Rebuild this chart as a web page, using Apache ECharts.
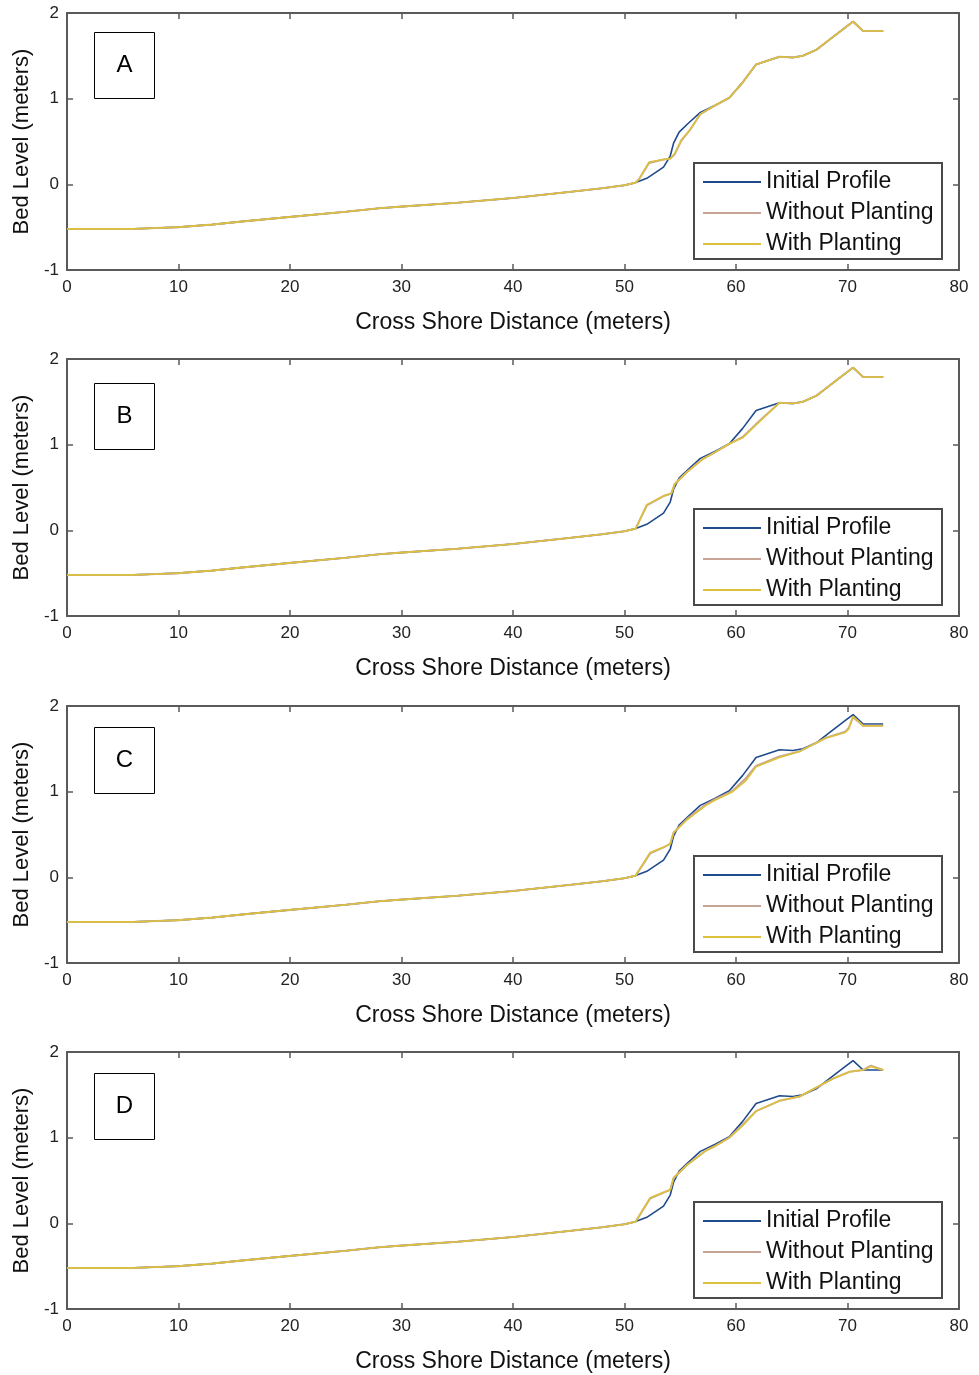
<!DOCTYPE html>
<html>
<head>
<meta charset="utf-8">
<script src="https://cdn.jsdelivr.net/npm/echarts@6/dist/echarts.min.js"></script>
<style>
html,body{margin:0;padding:0;background:#fff;}
#chart{width:979px;height:1375px;}
</style>
</head>
<body>
<div id="chart"></div>
<script>
// ---------- DATA ----------
const panelLabels = ['A', 'B', 'C', 'D'];
const seriesNames = ['Initial Profile', 'Without Planting', 'With Planting'];
const xTicks = [0, 10, 20, 30, 40, 50, 60, 70, 80];
const yTicks = [-1, 0, 1, 2];

// Shared offshore part (identical in all runs)
const offshoreX = [0, 3, 6, 8, 10, 13, 16, 20, 25, 28, 30, 35, 40, 45, 48, 50, 51];
const offshoreY = [-0.52, -0.52, -0.52, -0.51, -0.50, -0.47, -0.43, -0.38, -0.32, -0.28, -0.26, -0.215, -0.16, -0.09, -0.045, -0.01, 0.02];

// Initial profile, upper beach
const initialX = [52, 53.5, 54.1, 54.4, 54.9, 55.7, 56.8, 58.1, 59.4, 60.6, 61.8, 63.9, 65.1, 66.0, 67.2, 68.7, 69.9, 70.5, 71.4, 73.2];
const initialY = [0.07, 0.20, 0.33, 0.48, 0.61, 0.71, 0.84, 0.92, 1.01, 1.19, 1.40, 1.49, 1.48, 1.50, 1.57, 1.72, 1.84, 1.90, 1.79, 1.79];

// Panel A
const withAX = [51.3, 52.2, 53.5, 54.1, 54.5, 55.1, 55.9, 56.8, 58.1, 59.4, 60.6, 61.8, 63.9, 65.1, 66.0, 67.2, 68.7, 69.9, 70.5, 71.4, 73.2];
const withAY = [0.06, 0.26, 0.29, 0.30, 0.36, 0.52, 0.64, 0.82, 0.92, 1.01, 1.19, 1.40, 1.49, 1.48, 1.50, 1.57, 1.72, 1.84, 1.90, 1.79, 1.79];
const withoutAX = [51.3, 52.2, 53.5, 54.1, 54.5, 55.1, 55.9, 56.8, 58.1, 59.4, 60.6, 61.8, 63.9, 65.1, 66.0, 67.2, 68.7, 69.9, 70.5, 71.4, 73.2];
const withoutAY = [0.06, 0.25, 0.29, 0.30, 0.35, 0.51, 0.64, 0.82, 0.92, 1.01, 1.19, 1.40, 1.49, 1.48, 1.50, 1.57, 1.72, 1.84, 1.90, 1.79, 1.79];

// Panel B
const withBX = [52.0, 53.5, 54.2, 54.5, 55.6, 57.0, 58.1, 59.4, 60.6, 61.8, 63.9, 65.1, 66.0, 67.2, 68.7, 69.9, 70.5, 71.4, 73.2];
const withBY = [0.30, 0.40, 0.43, 0.54, 0.68, 0.83, 0.91, 1.01, 1.08, 1.23, 1.49, 1.48, 1.50, 1.57, 1.72, 1.84, 1.90, 1.79, 1.79];
const withoutBX = [52.0, 53.5, 54.2, 54.5, 55.6, 57.0, 58.1, 59.4, 60.6, 61.8, 63.9, 65.1, 66.0, 67.2, 68.7, 69.9, 70.5, 71.4, 73.2];
const withoutBY = [0.29, 0.40, 0.43, 0.54, 0.68, 0.83, 0.91, 1.01, 1.09, 1.24, 1.49, 1.48, 1.50, 1.57, 1.72, 1.84, 1.90, 1.79, 1.79];

// Panel C
const withCX = [52.3, 53.5, 54.1, 54.4, 55.6, 57.3, 58.1, 59.7, 60.9, 61.8, 63.9, 65.7, 68.1, 69.8, 70.1, 70.5, 71.4, 73.2];
const withCY = [0.29, 0.35, 0.39, 0.52, 0.67, 0.84, 0.90, 1.00, 1.13, 1.29, 1.40, 1.47, 1.63, 1.69, 1.73, 1.88, 1.77, 1.77];
const withoutCX = [52.3, 53.5, 54.1, 54.4, 55.6, 57.3, 58.1, 59.7, 60.9, 61.8, 63.9, 65.7, 68.1, 69.8, 70.1, 70.5, 71.4, 73.2];
const withoutCY = [0.28, 0.35, 0.39, 0.52, 0.68, 0.85, 0.91, 1.01, 1.16, 1.30, 1.41, 1.47, 1.63, 1.70, 1.74, 1.87, 1.77, 1.77];

// Panel D
const withDX = [52.3, 53.5, 54.1, 54.4, 55.6, 57.3, 58.1, 59.4, 60.6, 61.8, 63.9, 65.7, 68.7, 70.2, 71.4, 72.1, 73.2];
const withDY = [0.30, 0.36, 0.39, 0.53, 0.68, 0.85, 0.90, 1.00, 1.14, 1.31, 1.43, 1.48, 1.69, 1.77, 1.79, 1.83, 1.79];
const withoutDX = [52.3, 53.5, 54.1, 54.4, 55.6, 57.3, 58.1, 59.4, 60.6, 61.8, 63.9, 65.7, 68.7, 70.2, 71.4, 72.1, 73.2];
const withoutDY = [0.29, 0.36, 0.39, 0.53, 0.68, 0.85, 0.90, 1.00, 1.15, 1.31, 1.43, 1.48, 1.69, 1.77, 1.79, 1.84, 1.79];

// ---------- LAYOUT / STYLE ----------
const FONT = 'Liberation Sans, Arial, sans-serif';
const colors = ['#1f4a8e', '#c6a595', '#dcc13c'];
const gridTops = [13, 359, 706, 1052];
const gridHeight = 257;
const labelBoxTops = [32, 383, 727, 1073];
const frameColor = '#5a5a5a';

function pairs(xs, ys) { return xs.map((x, i) => [x, ys[i]]); }
function full(upX, upY) { return pairs(offshoreX.concat(upX), offshoreY.concat(upY)); }

const panelData = [
  [full(initialX, initialY), full(withoutAX, withoutAY), full(withAX, withAY)],
  [full(initialX, initialY), full(withoutBX, withoutBY), full(withBX, withBY)],
  [full(initialX, initialY), full(withoutCX, withoutCY), full(withCX, withCY)],
  [full(initialX, initialY), full(withoutDX, withoutDY), full(withDX, withDY)]
];

const grids = [], xAxes = [], yAxes = [], series = [], legends = [], graphics = [];
const axisLine = { show: true, onZero: false, lineStyle: { color: frameColor, width: 2 } };
const axisTick = { show: true, inside: true, length: 6, lineStyle: { color: frameColor, width: 1.5 } };

gridTops.forEach((top, i) => {
  grids.push({ left: 67, right: 20, top: top, height: gridHeight, containLabel: false });
  xAxes.push({
    gridIndex: i, type: 'value', min: xTicks[0], max: xTicks[xTicks.length - 1], interval: 10,
    position: 'bottom', axisLine: axisLine, axisTick: axisTick, splitLine: { show: false },
    axisLabel: { fontFamily: FONT, fontSize: 17, color: '#222', margin: 9 },
    name: 'Cross Shore Distance (meters)', nameLocation: 'middle', nameGap: 41,
    nameTextStyle: { fontFamily: FONT, fontSize: 23, color: '#111' }
  });
  xAxes.push({
    gridIndex: i, type: 'value', min: xTicks[0], max: xTicks[xTicks.length - 1], interval: 10,
    position: 'top', axisLine: axisLine, axisTick: axisTick, splitLine: { show: false },
    axisLabel: { show: false }
  });
  yAxes.push({
    gridIndex: i, type: 'value', min: yTicks[0], max: yTicks[yTicks.length - 1], interval: 1,
    position: 'left', axisLine: axisLine, axisTick: axisTick, splitLine: { show: false },
    axisLabel: { fontFamily: FONT, fontSize: 17, color: '#222', margin: 8 },
    name: 'Bed Level (meters)', nameLocation: 'middle', nameGap: 34, nameRotate: 90,
    nameTextStyle: { fontFamily: FONT, fontSize: 22, color: '#111' }
  });
  yAxes.push({
    gridIndex: i, type: 'value', min: yTicks[0], max: yTicks[yTicks.length - 1], interval: 1,
    position: 'right', axisLine: axisLine, axisTick: axisTick, splitLine: { show: false },
    axisLabel: { show: false }
  });
  seriesNames.forEach((name, k) => {
    series.push({
      name: name, type: 'line', xAxisIndex: 2 * i, yAxisIndex: 2 * i,
      data: panelData[i][k], symbol: 'none', showSymbol: false, smooth: false,
      lineStyle: { color: colors[k], width: k === 1 ? 2 : 1.6 }, itemStyle: { color: colors[k] },
      z: 2 + k, animation: false
    });
  });
  legends.push({
    data: seriesNames, orient: 'vertical', left: 694, top: top + 150,
    padding: [7, 8, 3, 9], itemWidth: 58, itemHeight: 2, itemGap: 7, icon: 'rect',
    backgroundColor: '#fff', borderColor: '#4a4a4a', borderWidth: 2, borderRadius: 0,
    textStyle: { fontFamily: FONT, fontSize: 23, color: '#111', lineHeight: 24, width: 168 },
    selectedMode: false
  });
  graphics.push({
    type: 'group', left: 94, top: labelBoxTops[i],
    children: [
      { type: 'rect', shape: { x: 0, y: 0, width: 60, height: 66 }, style: { fill: '#fff', stroke: '#000', lineWidth: 1 } },
      { type: 'text', x: 30, y: 33, style: { text: panelLabels[i], font: '24px ' + FONT, fill: '#000', align: 'center', verticalAlign: 'middle' } }
    ]
  });
});

const chart = echarts.init(document.getElementById('chart'), null, { renderer: 'canvas' });
chart.setOption({
  animation: false,
  backgroundColor: '#fff',
  grid: grids,
  xAxis: xAxes,
  yAxis: yAxes,
  legend: legends,
  series: series,
  graphic: graphics
});
</script>
</body>
</html>
